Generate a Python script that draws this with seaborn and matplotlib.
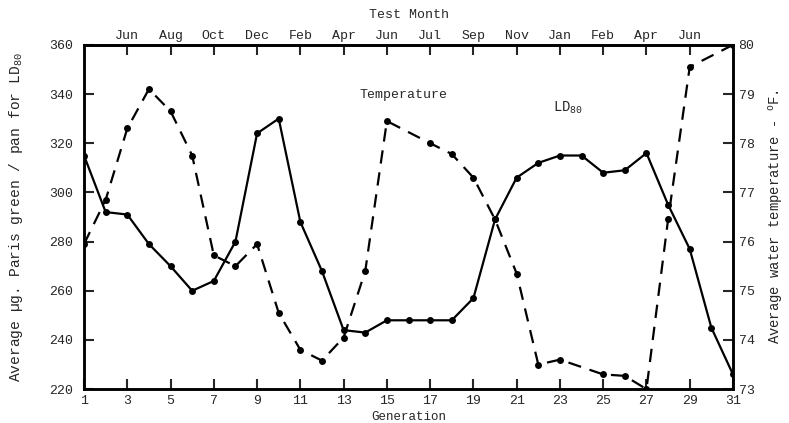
import pandas as pd
import matplotlib.pyplot as plt
import seaborn as sns

# Generation numbers and LD80 values (left axis)
generations = list(range(1, 32))
ld80_values = [315, 292, 291, 279, 270, 260, 264, 280, 324, 330, 288, 268, 244, 243,
               248, 248, 248, 248, 257, 289, 306, 312, 315, 315, 308, 309, 316, 295,
               277, 245, 226]

# Water temperature (right axis) - some generations have no reading
temp_generations = [1, 2, 3, 4, 5, 6, 7, 8, 9, 10, 11, 12, 13, 14, 15, 17, 18, 19, 20,
                    21, 22, 23, 25, 26, 27, 28, 29, 31]
temp_values = [75.95, 76.85, 78.3, 79.1, 78.65, 77.75, 75.72, 75.5, 75.95, 74.55, 73.8,
               73.58, 74.05, 75.4, 78.45, 78.0, 77.78, 77.3, 76.45, 75.35, 73.5, 73.6,
               73.3, 73.27, 73.0, 76.45, 79.55, 80.0]

# Top axis month labels
month_ticks = [3, 5, 7, 9, 11, 13, 15, 17, 19, 21, 23, 25, 27, 29]
month_labels = ['Jun', 'Aug', 'Oct', 'Dec', 'Feb', 'Apr', 'Jun', 'Jul', 'Sep', 'Nov',
                'Jan', 'Feb', 'Apr', 'Jun']

ld_df = pd.DataFrame({'Generation': generations, 'LD80': ld80_values})
temp_df = pd.DataFrame({'Generation': temp_generations, 'Temperature': temp_values})

sns.set_style('ticks')
plt.rcParams['font.family'] = ['Liberation Mono', 'DejaVu Sans']
plt.rcParams['mathtext.fontset'] = 'custom'
plt.rcParams['mathtext.rm'] = 'Liberation Mono'
plt.rcParams['mathtext.it'] = 'Liberation Mono'
plt.rcParams['axes.linewidth'] = 1.8

fig = plt.figure(figsize=(7.89, 4.23), dpi=100)
ax = fig.add_axes([0.1065, 0.080, 0.8225, 0.814])

sns.lineplot(data=ld_df, x='Generation', y='LD80', ax=ax, color='black',
             marker='o', markersize=5, markeredgewidth=0, linewidth=1.6,
             errorbar=None)
ax.set_xlim(1, 31)
ax.set_ylim(220, 360)
ax.set_yticks(range(220, 361, 20))
ax.set_xticks(range(1, 32, 2))
ax.set_xlabel('Generation', fontsize=9, labelpad=3)
ax.set_ylabel('Average \u00b5g. Paris green / pan for LD$_{\\mathrm{80}}$', fontsize=10.5,
              labelpad=17)
ax.tick_params(axis='y', direction='in', length=7, width=1.5, labelsize=9.5, pad=8)
ax.tick_params(axis='x', direction='in', length=7, width=1.5, labelsize=9.5, pad=4)

ax2 = ax.twinx()
sns.lineplot(data=temp_df, x='Generation', y='Temperature', ax=ax2, color='black',
             marker='o', markersize=5, markeredgewidth=0, linewidth=1.6,
             linestyle=(0, (6, 4)), errorbar=None)
ax2.set_ylim(73, 80)
ax2.set_yticks(range(73, 81))
ax2.set_ylabel('Average water temperature - $^{\\mathrm{o}}$F.', fontsize=10,
               rotation=90, labelpad=9)
ax2.tick_params(direction='in', length=7, width=1.5, labelsize=9.5, pad=4)

top = ax.secondary_xaxis('top')
top.set_xticks(month_ticks)
top.set_xticklabels(month_labels)
top.tick_params(direction='in', length=7, width=1.5, labelsize=9.5, pad=2)
top.set_xlabel('Test Month', fontsize=9.5, labelpad=9)

for a in (ax, ax2):
    for s in a.spines.values():
        s.set_visible(True)
        s.set_linewidth(1.8)
        s.set_color('black')

ax.text(13.75, 339.5, 'Temperature', fontsize=9.5, va='center')
ax.text(22.7, 334.5, 'LD$_{\\mathrm{80}}$', fontsize=10, va='center')

fig.savefig('out.png', dpi=100)
